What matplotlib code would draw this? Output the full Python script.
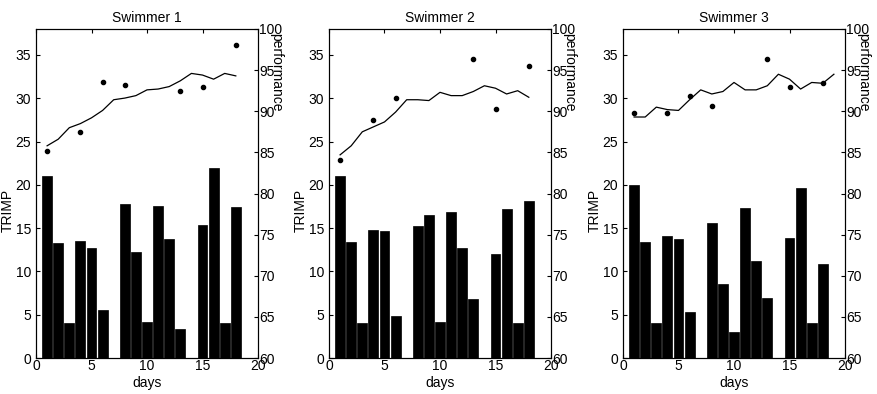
import numpy as np
import matplotlib
matplotlib.use("Agg")
import matplotlib.pyplot as plt

days = np.arange(1, 19)

# TRIMP per day (bars), one list per swimmer
trimp_1 = [21.0, 13.3, 4.1, 13.5, 12.7, 5.6, 0, 17.8, 12.3, 4.2, 17.5, 13.8, 3.4, 0, 15.4, 21.9, 4.1, 17.4]
trimp_2 = [21.0, 13.4, 4.1, 14.8, 14.7, 4.9, 0, 15.2, 16.5, 4.2, 16.9, 12.7, 6.8, 0, 12.0, 17.2, 4.1, 18.1]
trimp_3 = [20.0, 13.4, 4.1, 14.1, 13.7, 5.3, 0, 15.6, 8.6, 3.0, 17.3, 11.2, 6.9, 0, 13.9, 19.6, 4.1, 10.9]

# modelled performance (line)
model_1 = [85.8, 86.6, 88.0, 88.5, 89.2, 90.1, 91.4, 91.6, 91.9, 92.6, 92.7, 93.0, 93.7, 94.6, 94.4, 93.9, 94.6, 94.3]
model_2 = [84.7, 85.8, 87.5, 88.1, 88.7, 89.9, 91.4, 91.4, 91.3, 92.3, 91.9, 91.9, 92.4, 93.1, 92.8, 92.1, 92.5, 91.7]
model_3 = [89.3, 89.3, 90.5, 90.2, 90.1, 91.4, 92.6, 92.1, 92.4, 93.5, 92.6, 92.6, 93.1, 94.5, 93.9, 92.7, 93.5, 93.4, 94.5]

# measured performance (dots)
test_days = [1, 4, 6, 8, 13, 15, 18]
meas_1 = [85.2, 87.5, 93.5, 93.2, 92.5, 92.9, 98.0]
test_days_2 = [1, 4, 6, 13, 15, 18]
meas_2 = [84.1, 88.9, 91.6, 96.4, 90.3, 95.5]
meas_3 = [89.8, 89.8, 91.9, 90.6, 96.4, 93.0, 93.4]

panels = [
    ("Swimmer 1", trimp_1, model_1, test_days, meas_1),
    ("Swimmer 2", trimp_2, model_2, test_days_2, meas_2),
    ("Swimmer 3", trimp_3, model_3, test_days, meas_3),
]

W, H = 878, 394
fig = plt.figure(figsize=(W / 100, H / 100), dpi=100)
plt.rcParams['font.family'] = ['Liberation Sans', 'DejaVu Sans']

lefts = [36, 329, 623]
ax_w = 222
top, bottom = 29, 358
fs = 10

for left, (title, trimp, model, tdays, meas) in zip(lefts, panels):
    ax = fig.add_axes([left / W, 1 - bottom / H, ax_w / W, (bottom - top) / H])
    ax.bar(days, trimp, width=0.9, color='black', edgecolor='black', linewidth=0.5)
    ax.set_xlim(0, 20)
    ax.set_ylim(0, 38)
    ax.set_xticks([0, 5, 10, 15, 20])
    ax.set_yticks([0, 5, 10, 15, 20, 25, 30, 35])
    ax.tick_params(direction='in', length=3, labelsize=fs, top=True, right=False, width=0.8)
    ax.tick_params(axis='x', pad=1)
    ax.set_title(title, fontsize=fs, pad=5)
    ax.set_xlabel('days', fontsize=fs, labelpad=2)
    ax.set_ylabel('TRIMP', fontsize=fs)
    ax.yaxis.set_label_coords(-0.095, 0.45)
    for s in ax.spines.values():
        s.set_linewidth(0.8)

    ax2 = ax.twinx()
    ax2.plot(np.arange(1, len(model) + 1), model, color='black', linewidth=0.9)
    ax2.plot(tdays, meas, linestyle='none', marker='o', markersize=3, color='black')
    ax2.set_ylim(60, 100)
    ax2.set_yticks([60, 65, 70, 75, 80, 85, 90, 95, 100])
    ax2.tick_params(direction='in', length=3, labelsize=fs, width=0.8, pad=1)
    ax2.set_ylabel('performance', fontsize=fs, rotation=270)
    ax2.yaxis.set_label_coords(1.115, 0.87)

fig.savefig('out.png', dpi=100)
